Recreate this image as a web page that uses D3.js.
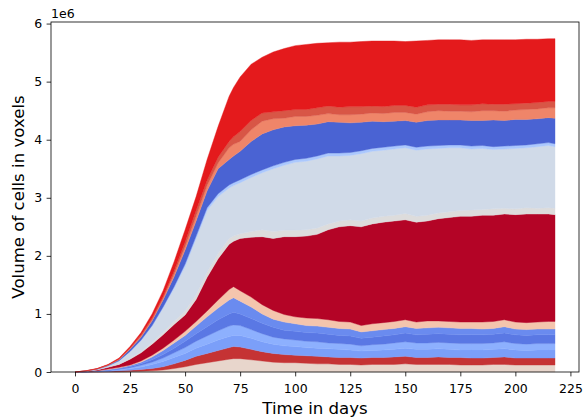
<!DOCTYPE html>
<html>
<head>
<meta charset="utf-8">
<script src="https://cdn.jsdelivr.net/npm/d3@7"></script>
<style>
  body { margin: 0; background: #fff; }
  text { font-family: "DejaVu Sans", sans-serif; fill: #000; }
</style>
</head>
<body>
<div id="chart"></div>
<script>
// time points (days) and volume of each cell population, in millions of voxels
const days = [0, 5, 10, 15, 20, 25, 30, 35, 40, 45, 50, 55, 60, 65, 70, 72, 75, 80, 85, 90, 95, 100, 105, 110, 115, 120, 125, 130, 135, 140, 145, 150, 155, 160, 165, 170, 175, 180, 185, 190, 195, 200, 205, 210, 215, 218];

const pop1 = [0, 0, 0, .002, .004, .008, .015, .02, .035, .06, .09, .13, .16, .19, .22, .23, .23, .21, .19, .17, .16, .16, .15, .14, .14, .13, .13, .12, .13, .13, .13, .14, .13, .13, .13, .13, .12, .12, .12, .13, .13, .12, .12, .12, .12, .12];
const pop2 = [0, .001, .005, .008, .016, .022, .03, .04, .055, .08, .11, .14, .16, .18, .2, .21, .2, .18, .16, .15, .14, .13, .13, .13, .12, .12, .12, .12, .12, .12, .13, .13, .12, .12, .13, .12, .13, .12, .12, .12, .13, .12, .12, .12, .12, .12];
const pop3 = [0, .001, .005, .01, .015, .025, .04, .07, .09, .11, .12, .14, .16, .18, .19, .19, .2, .19, .17, .16, .15, .15, .14, .14, .14, .14, .13, .12, .12, .13, .13, .14, .14, .14, .14, .14, .13, .14, .14, .14, .14, .14, .13, .14, .14, .14];
const pop4 = [0, .001, .003, .006, .012, .02, .03, .04, .06, .08, .1, .12, .14, .16, .18, .18, .17, .15, .14, .12, .12, .11, .11, .11, .1, .1, .1, .09, .1, .1, .11, .11, .11, .11, .11, .11, .11, .11, .11, .11, .12, .11, .11, .11, .11, .11];
const pop5 = [0, .001, .003, .006, .011, .015, .025, .04, .06, .08, .11, .13, .16, .19, .21, .22, .2, .19, .18, .17, .15, .15, .15, .15, .15, .14, .14, .13, .13, .14, .14, .15, .14, .15, .15, .15, .15, .15, .15, .15, .15, .15, .15, .15, .15, .15];
const pop6 = [0, .001, .004, .008, .012, .02, .03, .05, .07, .09, .1, .13, .17, .2, .24, .25, .22, .2, .16, .14, .14, .13, .12, .12, .12, .12, .12, .11, .11, .11, .11, .11, .11, .11, .11, .11, .11, .11, .1, .1, .11, .1, .1, .1, .1, .1];
const pop7 = [0, .001, .002, .01, .01, .01, .02, .03, .04, .05, .07, .08, .1, .14, .18, .19, .18, .17, .16, .15, .13, .12, .13, .13, .13, .12, .12, .11, .12, .12, .12, .12, .11, .12, .11, .11, .11, .11, .12, .12, .12, .12, .12, .12, .13, .13];
const pop8 = [0, .006, .013, .03, .05, .1, .14, .19, .23, .27, .28, .38, .58, .71, .78, .78, .9, 1.03, 1.17, 1.24, 1.34, 1.38, 1.41, 1.45, 1.55, 1.63, 1.66, 1.7, 1.72, 1.73, 1.73, 1.72, 1.72, 1.72, 1.76, 1.79, 1.82, 1.82, 1.84, 1.83, 1.82, 1.85, 1.87, 1.86, 1.85, 1.84];
const pop9 = [0, .001, .005, .008, .01, .015, .02, .03, .04, .05, .07, .08, .09, .09, .1, .09, .08, .1, .12, .12, .11, .11, .11, .11, .1, .1, .1, .1, .1, .1, .1, .11, .1, .1, .1, .1, .1, .11, .1, .11, .1, .1, .11, .1, .11, .11];
const pop10 = [0, .002, .007, .017, .05, .115, .19, .28, .42, .57, .77, .97, 1.06, .98, .87, .87, .88, .93, .98, 1.08, 1.12, 1.17, 1.18, 1.19, 1.17, 1.12, 1.11, 1.16, 1.15, 1.14, 1.14, 1.13, 1.14, 1.14, 1.11, 1.1, 1.08, 1.05, 1.05, 1.02, 1.02, 1.04, 1.03, 1.06, 1.07, 1.06];
const pop11 = [0, .001, .001, .002, .003, .005, .01, .01, .02, .03, .04, .04, .05, .05, .05, .05, .05, .05, .05, .05, .05, .05, .05, .05, .05, .05, .05, .05, .05, .05, .05, .05, .05, .05, .05, .05, .05, .05, .05, .05, .05, .05, .05, .05, .05, .05];
const pop12 = [0, .002, .004, .008, .017, .035, .05, .08, .12, .17, .24, .26, .29, .43, .44, .46, .49, .57, .62, .62, .61, .58, .57, .55, .54, .53, .51, .49, .47, .44, .43, .42, .43, .44, .44, .43, .43, .44, .43, .46, .44, .45, .44, .43, .43, .44];
const pop13 = [0, .001, .002, .005, .008, .015, .02, .02, .03, .05, .06, .08, .09, .1, .2, .2, .17, .2, .22, .19, .15, .16, .15, .15, .14, .13, .14, .14, .14, .14, .15, .14, .14, .15, .16, .15, .15, .15, .17, .16, .16, .16, .17, .17, .17, .18];
const pop14 = [0, .001, .002, .003, .007, .01, .02, .03, .03, .05, .08, .1, .09, .1, .11, .13, .17, .16, .14, .12, .13, .12, .12, .13, .13, .13, .14, .13, .12, .12, .12, .12, .12, .12, .11, .12, .11, .12, .12, .11, .12, .11, .11, .11, .11, .11];
const pop15 = [0, .002, .004, .007, .015, .025, .04, .07, .1, .16, .21, .24, .36, .53, .78, .85, .94, .97, .96, 1.03, 1.07, 1.1, 1.12, 1.11, 1.09, 1.12, 1.11, 1.12, 1.12, 1.13, 1.11, 1.1, 1.14, 1.11, 1.11, 1.11, 1.12, 1.11, 1.1, 1.11, 1.11, 1.1, 1.1, 1.09, 1.08, 1.08];

const xTicks = [0, 25, 50, 75, 100, 125, 150, 175, 200, 225];
const yTicks = [0, 1, 2, 3, 4, 5, 6];

const series = [pop1, pop2, pop3, pop4, pop5, pop6, pop7, pop8, pop9, pop10, pop11, pop12, pop13, pop14, pop15];
const colors = ["#e8d6cc", "#c53334", "#7b9ff9", "#8db0fe", "#5a78e4", "#6a8bef", "#f4c5ad", "#b40426",
  "#dddcdc", "#d0dae8", "#abc8fd", "#4a63d3", "#ef8569", "#d85646", "#e41a1c"];

const w = 583;
const h = 417;
const margin = { top: 22, right: 4, bottom: 45, left: 51 };
const tickLen = 4.4;

const keys = series.map((s, i) => "p" + i);
const table = days.map((d, i) => {
  const row = { day: d };
  series.forEach((s, j) => { row[keys[j]] = s[i]; });
  return row;
});

const stacked = d3.stack().keys(keys)(table);

const xMax = d3.max(days);
const yMax = d3.max(stacked[stacked.length - 1], (d) => d[1]);

const xScale = d3.scaleLinear()
  .domain([-0.05 * xMax, xMax * 1.05])
  .range([margin.left, w - margin.right]);
const yScale = d3.scaleLinear()
  .domain([0, yMax * 1.05])
  .range([h - margin.bottom, margin.top]);

const svg = d3.select("#chart").append("svg").attr("width", w).attr("height", h);

const area = d3.area()
  .x((d) => xScale(d.data.day))
  .y0((d) => yScale(d[0]))
  .y1((d) => yScale(d[1]));

svg.append("g")
  .selectAll("path")
  .data(stacked)
  .enter()
  .append("path")
  .attr("d", area)
  .attr("fill", (d, i) => colors[i])
  .attr("stroke", (d, i) => colors[i])
  .attr("stroke-width", 0.4);

const xAxis = d3.axisBottom(xScale).tickValues(xTicks).tickSize(tickLen).tickSizeOuter(0)
  .tickFormat(d3.format("d"));
const yAxis = d3.axisLeft(yScale).tickValues(yTicks).tickSize(tickLen).tickPadding(4.4).tickSizeOuter(0)
  .tickFormat(d3.format("d"));

const gx = svg.append("g")
  .attr("transform", "translate(0," + (h - margin.bottom) + ")")
  .call(xAxis);
const gy = svg.append("g")
  .attr("transform", "translate(" + margin.left + ",0)")
  .call(yAxis);

[gx, gy].forEach((g) => {
  g.select(".domain").remove();
  g.selectAll(".tick line").attr("stroke", "#000").attr("stroke-width", 0.8);
  g.selectAll(".tick text").style("font-size", "12.5px").style("font-family", "DejaVu Sans");
});
gx.selectAll(".tick text").attr("y", 20.7).attr("dy", 0);

// frame
svg.append("rect")
  .attr("x", margin.left)
  .attr("y", margin.top)
  .attr("width", w - margin.left - margin.right)
  .attr("height", h - margin.top - margin.bottom)
  .attr("fill", "none")
  .attr("stroke", "#000")
  .attr("stroke-width", 0.8);

svg.append("text")
  .attr("x", margin.left)
  .attr("y", 18.3)
  .style("font-size", "12.5px")
  .text("1e6");

svg.append("text")
  .attr("x", (margin.left + w - margin.right) / 2)
  .attr("y", 413.5)
  .attr("text-anchor", "middle")
  .style("font-size", "16.6px")
  .text("Time in days");

svg.append("text")
  .attr("transform", "translate(23.5," + (margin.top + (h - margin.top - margin.bottom) / 2) + ") rotate(-90)")
  .attr("text-anchor", "middle")
  .style("font-size", "16.6px")
  .text("Volume of cells in voxels");
</script>
</body>
</html>
